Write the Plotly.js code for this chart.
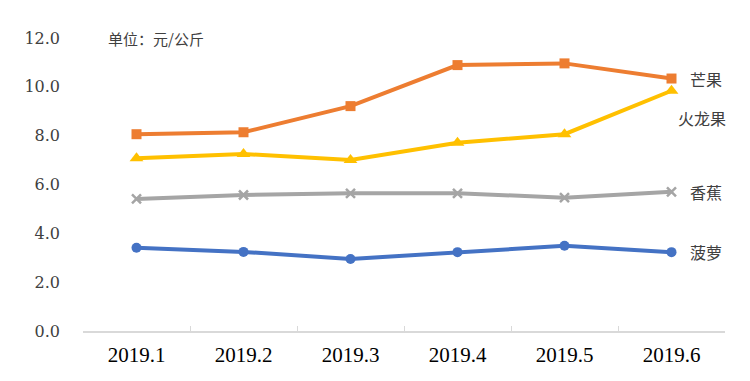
<!DOCTYPE html>
<html>
<head>
<meta charset="utf-8">
<script src="https://cdn.plot.ly/plotly-3.0.1.min.js"></script>
<style>html,body{margin:0;padding:0;background:#fff;}#chart{width:750px;height:381px;}</style>
</head>
<body>
<div id="chart"></div>
<script>
const months = ["2019.1", "2019.2", "2019.3", "2019.4", "2019.5", "2019.6"];
const mango = [8.06, 8.14, 9.21, 10.89, 10.96, 10.34];
const dragonFruit = [7.07, 7.25, 7.0, 7.71, 8.06, 9.84];
const banana = [5.41, 5.57, 5.64, 5.64, 5.46, 5.70];
const pineapple = [3.41, 3.24, 2.95, 3.23, 3.49, 3.23];
const seriesNames = ["芒果", "火龙果", "香蕉", "菠萝"];
const yTicks = [0, 2, 4, 6, 8, 10, 12];
const yTickText = ["0.0", "2.0", "4.0", "6.0", "8.0", "10.0", "12.0"];
const unitText = "单位：元/公斤";

const cjk = 'Noto Sans CJK SC';

const series = [
  {y: mango, color: "#ED7D31", symbol: "square", size: 10},
  {y: dragonFruit, color: "#FFC000", symbol: "triangle-up", size: 12},
  {y: banana, color: "#A5A5A5", symbol: "x-thin", size: 9},
  {y: pineapple, color: "#4472C4", symbol: "circle", size: 10}
];

const traces = series.map((s, i) => ({
  x: months, y: s.y, name: seriesNames[i], type: "scatter", mode: "lines+markers",
  line: {color: s.color, width: 4},
  marker: {color: s.color, symbol: s.symbol, size: s.size, line: {color: s.color, width: s.symbol === "x-thin" ? 2.5 : 0}}
}));

const labelShift = [0, -27, 0, 0];
const labelX = [16, 4, 16, 16];
const annotations = series.map((s, i) => ({
  x: 5, y: s.y[5], xref: "x", yref: "y", text: seriesNames[i],
  showarrow: false, xanchor: "left", yanchor: "middle", xshift: labelX[i], yshift: labelShift[i],
  font: {family: cjk, size: 16, color: "#404040"}
}));
annotations.push({
  x: 0, y: 12, xref: "x", yref: "y", text: unitText, showarrow: false,
  xanchor: "left", yanchor: "middle", xshift: -31,
  font: {family: cjk, size: 15, color: "#404040"}
});

const layout = {
  width: 750, height: 381,
  margin: {l: 83, r: 25, t: 38, b: 50},
  paper_bgcolor: "#fff", plot_bgcolor: "#fff",
  showlegend: false,
  font: {family: 'Times New Roman'},
  xaxis: {
    type: "category", range: [-0.5, 5.5], showgrid: false, zeroline: false,
    showline: true, linecolor: "#d9d9d9", linewidth: 1.5,
    ticks: "inside", ticklen: 5, tickcolor: "#d9d9d9", tickson: "boundaries",
    tickfont: {family: 'serif', size: 21, color: "#000"}, ticklabelstandoff: 4
  },
  yaxis: {
    range: [0, 12], tickvals: yTicks, ticktext: yTickText, showgrid: false,
    zeroline: false, showline: false, ticks: "",
    tickfont: {family: 'DejaVu Serif', size: 16, color: "#404040"}, ticklabelstandoff: 22
  },
  annotations: annotations
};

Plotly.newPlot("chart", traces, layout, {displayModeBar: false});
</script>
</body>
</html>
